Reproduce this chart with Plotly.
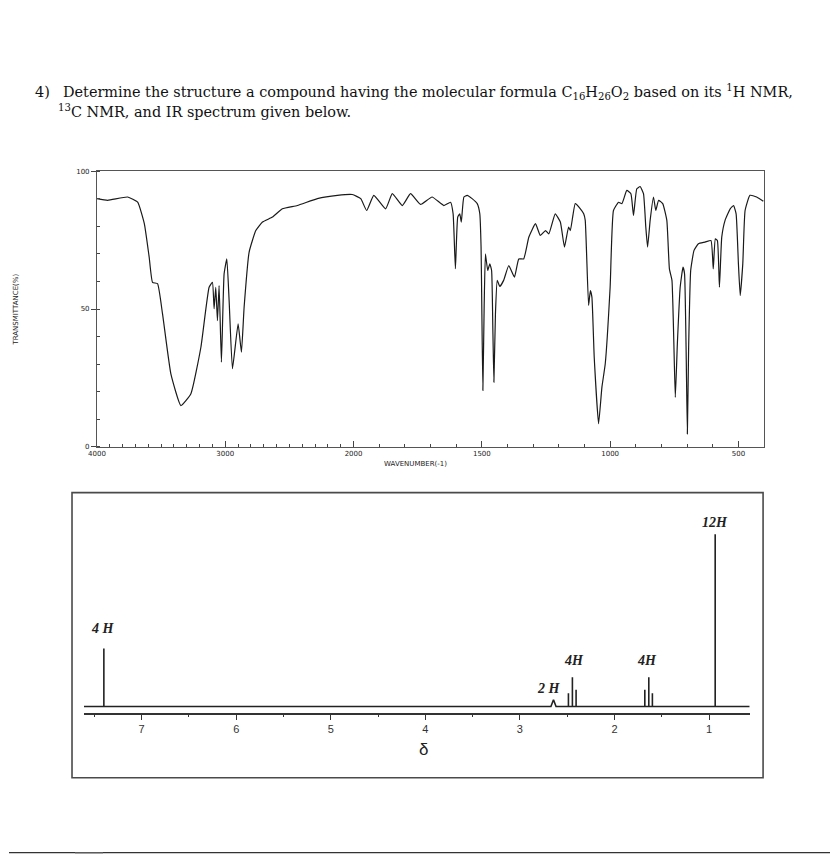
import plotly.graph_objects as go

W, H = 830, 856


# reference-pixel -> paper coordinates
def px(x):
    return ((x - 7.9) / 0.9905) / W


def py(y):
    return 1 - ((y - 3.7) / 0.99) / H


# ---------------- data ----------------
IR_WAVENUMBER = [4000, 3917, 3761, 3683, 3631, 3593, 3567, 3528, 3489, 3424, 3346, 3268, 3190, 3126,
                 3100, 3087, 3074, 3061, 3048, 3030, 3009, 2988, 2970, 2944, 2900, 2874, 2853, 2814,
                 2762, 2710, 2632, 2555, 2438, 2282, 2126, 2010, 1972, 1949, 1921, 1875, 1849, 1810,
                 1778, 1739, 1694, 1648, 1622, 1612, 1603, 1594, 1586, 1580, 1570, 1557, 1538, 1518,
                 1508, 1503, 1500, 1496, 1491, 1486, 1477, 1469, 1462, 1457, 1453, 1447, 1440, 1430,
                 1415, 1395, 1373, 1356, 1337, 1317, 1291, 1272, 1252, 1239, 1214, 1194, 1178, 1162,
                 1155, 1136, 1116, 1103, 1097, 1084, 1077, 1071, 1062, 1045, 1032, 1019, 1000, 987,
                 967, 954, 935, 919, 909, 896, 883, 870, 861, 854, 844, 831, 822, 811, 795, 779, 769,
                 759, 746, 738, 727, 716, 710, 704, 699, 694, 686, 673, 656, 630, 607, 598, 590, 582,
                 574, 565, 552, 532, 519, 509, 500, 493, 483, 474, 455, 429, 403]
IR_TRANSMITTANCE = [90.1, 89.5, 90.7, 88.8, 81.0, 68.8, 59.7, 59.2, 48.2, 26.4, 14.9, 19.2, 36.1, 57.9,
                    59.7, 50.1, 57.9, 45.8, 58.5, 30.7, 62.8, 68.2, 53.1, 28.3, 44.6, 34.3, 50.7, 70.7,
                    78.5, 81.6, 83.4, 86.4, 87.6, 90.1, 91.3, 91.6, 90.1, 85.8, 91.3, 86.4, 91.9, 87.6,
                    91.9, 88.0, 90.7, 87.6, 88.8, 84.6, 64.6, 83.4, 84.6, 81.6, 90.7, 91.3, 90.1, 88.3,
                    84.6, 72.5, 49.5, 20.4, 50.7, 70.0, 64.0, 66.4, 64.0, 42.2, 23.4, 48.2, 60.4, 58.2,
                    60.4, 65.8, 61.6, 68.2, 68.2, 76.1, 81.0, 76.7, 78.5, 77.3, 84.6, 81.6, 72.5, 79.8,
                    78.5, 88.3, 86.4, 84.6, 82.2, 51.3, 56.7, 54.3, 32.5, 8.3, 21.6, 30.1, 57.9, 85.8,
                    88.8, 88.3, 93.1, 91.9, 84.0, 93.7, 94.5, 91.9, 79.8, 72.5, 82.2, 90.7, 85.8, 89.5,
                    88.3, 82.2, 64.6, 60.4, 17.9, 37.3, 57.9, 65.2, 62.8, 36.1, 4.6, 36.1, 64.0, 71.3,
                    73.7, 74.3, 74.9, 64.6, 75.5, 74.9, 57.9, 76.1, 82.2, 86.4, 87.6, 84.6, 66.4, 54.9,
                    66.4, 85.8, 91.3, 90.7, 89.2]
IR_TICK_LABELS = [4000, 3000, 2000, 1500, 1000, 500]
IR_Y_TICKS = [0, 50, 100]

NMR_SHIFTS = [7.40, 2.645, 2.487, 2.445, 2.406, 1.679, 1.637, 1.599, 0.935]
NMR_HEIGHTS = [33.7, 3.9, 7.7, 17.0, 9.7, 9.7, 17.0, 7.7, 100.0]
NMR_BROAD = [False, True, False, False, False, False, False, False, False]
NMR_LABELS = ["4 H", "2 H", "4H", "4H", "12H"]
NMR_TICKS = [7, 6, 5, 4, 3, 2, 1]


# ---------------- IR helpers (2000 cm-1 scale break, x2 below) ----------------
def to_u(w):
    return 4000 - w if w >= 2000 else 2000 + 2 * (2000 - w)


ir_x = [to_u(w) for w in IR_WAVENUMBER]

fig = go.Figure()

fig.add_trace(go.Scatter(
    x=ir_x, y=IR_TRANSMITTANCE, mode="lines",
    line=dict(color="#1a1a1a", width=1.2, shape="spline", smoothing=0.4),
    xaxis="x", yaxis="y", hoverinfo="skip", showlegend=False))

# ---------------- NMR trace ----------------
X_LEFT, X_RIGHT = 7.61, 0.57
nx, ny = [X_LEFT], [0]
for s, h, broad in zip(NMR_SHIFTS, NMR_HEIGHTS, NMR_BROAD):
    hw = 0.027 if broad else 0.0
    nx += [s + hw, s, s - hw]
    ny += [0, h, 0]
nx.append(X_RIGHT)
ny.append(0)

fig.add_trace(go.Scatter(
    x=nx, y=ny, mode="lines", line=dict(color="#222222", width=1.6),
    xaxis="x2", yaxis="y2", hoverinfo="skip", showlegend=False))

tick_font = dict(family="DejaVu Sans", size=7, color="#222")

minor_w = [w for w in range(400, 4001, 100) if w not in IR_TICK_LABELS]

fig.update_layout(
    width=W, height=H, autosize=False,
    margin=dict(l=0, r=0, t=0, b=0),
    paper_bgcolor="white", plot_bgcolor="white",
    xaxis=dict(
        domain=[px(96), px(764)], range=[0, 5200], anchor="y",
        showline=True, mirror=True, linecolor="#555", linewidth=1,
        showgrid=False, zeroline=False,
        tickmode="array", tickvals=[to_u(w) for w in IR_TICK_LABELS],
        ticktext=[str(w) for w in IR_TICK_LABELS],
        ticks="inside", ticklen=6, tickcolor="#444", tickfont=tick_font,
        minor=dict(tickmode="array", tickvals=[to_u(w) for w in minor_w],
                   ticks="inside", ticklen=3, tickcolor="#444"),
    ),
    yaxis=dict(
        domain=[py(446), py(171)], range=[0, 100], anchor="x",
        showline=True, mirror=True, linecolor="#555", linewidth=1,
        showgrid=False, zeroline=False,
        tickmode="array", tickvals=IR_Y_TICKS, ticktext=[str(v) for v in IR_Y_TICKS],
        ticks="outside", ticklen=5, tickcolor="#444", tickfont=tick_font,
        minor=dict(dtick=10, ticks="inside", ticklen=3, tickcolor="#444"),
    ),
    xaxis2=dict(
        domain=[px(83), px(749.6)], range=[X_LEFT, X_RIGHT], anchor="y2",
        showline=True, linecolor="#333", linewidth=2,
        showgrid=False, zeroline=False,
        tickmode="array", tickvals=NMR_TICKS, ticktext=[str(t) for t in NMR_TICKS],
        ticks="outside", ticklen=5, tickcolor="#333",
        tickfont=dict(family="Liberation Sans", size=11, color="#333"),
        minor=dict(dtick=0.5, ticks="outside", ticklen=2, tickcolor="#333"),
    ),
    yaxis2=dict(
        domain=[py(712), py(492)], range=[-3.66, 124.2], anchor="x2",
        visible=False,
    ),
)

# NMR frame and bottom bar
fig.add_shape(type="rect", xref="paper", yref="paper",
              x0=px(71), x1=px(763), y0=py(777), y1=py(492),
              line=dict(color="#4a4a4a", width=1.6), layer="below")
fig.add_shape(type="rect", xref="paper", yref="paper",
              x0=0, x1=1, y0=0, y1=py(852.5),
              line=dict(width=0), fillcolor="#333333")
fig.add_shape(type="rect", xref="paper", yref="paper",
              x0=px(74), x1=px(102), y0=0, y1=py(852.5),
              line=dict(width=0), fillcolor="#5c5c5c")

ann = []
serif = "DejaVu Serif"
hfont = dict(family=serif, size=14.45, color="#111")
ann.append(dict(x=px(32), y=py(92), xref="paper", yref="paper", xanchor="left", yanchor="middle",
                text="4)", showarrow=False, font=hfont))
ann.append(dict(x=px(60), y=py(92), xref="paper", yref="paper", xanchor="left", yanchor="middle",
                text="Determine the structure a compound having the molecular formula "
                     "C<sub>16</sub>H<sub>26</sub>O<sub>2</sub> based on its <sup>1</sup>H NMR,",
                showarrow=False, font=hfont))
ann.append(dict(x=px(55), y=py(111), xref="paper", yref="paper", xanchor="left", yanchor="middle",
                text="<sup>13</sup>C NMR, and IR spectrum given below.",
                showarrow=False, font=hfont))

# IR axis titles
ann.append(dict(x=px(415), y=py(463), xref="paper", yref="paper", text="WAVENUMBER(-1)",
                xanchor="center", yanchor="middle", showarrow=False, font=tick_font))
ann.append(dict(x=px(14), y=py(309), xref="paper", yref="paper", text="TRANSMITTANCE(%)",
                xanchor="center", yanchor="middle", textangle=-90, showarrow=False, font=tick_font))

# NMR integration labels (placed above their multiplets)
label_pos = [(7.41, 45.1), (2.69, 10.3), (2.426, 26.6), (1.655, 26.6), (0.937, 106.7)]
for t, (lx, ly) in zip(NMR_LABELS, label_pos):
    ann.append(dict(x=lx, y=ly, xref="x2", yref="y2", text=f"<b><i>{t}</i></b>",
                    xanchor="center", yanchor="middle", showarrow=False,
                    font=dict(family="Liberation Serif", size=14, color="#222")))

ann.append(dict(x=px(423), y=py(749), xref="paper", yref="paper", text="δ",
                xanchor="center", yanchor="middle", showarrow=False,
                font=dict(family="Liberation Sans", size=17, color="#222")))

fig.update_layout(annotations=ann)

fig.write_html("out.html", config={"displayModeBar": False},
               post_script="document.body.style.margin='0';document.body.style.overflow='hidden';")
